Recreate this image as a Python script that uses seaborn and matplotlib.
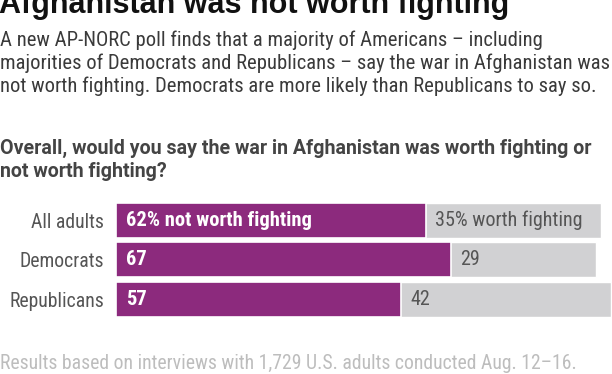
import matplotlib
matplotlib.use("Agg")
import matplotlib.pyplot as plt
import pandas as pd
import seaborn as sns

W, H = 612, 374

GROUPS = ["All adults", "Democrats", "Republicans"]
NOT_WORTH = [62, 67, 57]
WORTH = [35, 29, 42]
NOT_LABELS = ["62% not worth fighting", "67", "57"]
WORTH_LABELS = ["35% worth fighting", "29", "42"]

TITLE = "Afghanistan was not worth fighting"
SUBTITLE = [
    "A new AP-NORC poll finds that a majority of Americans \u2013 including",
    "majorities of Democrats and Republicans \u2013 say the war in Afghanistan was",
    "not worth fighting. Democrats are more likely than Republicans to say so.",
]
QUESTION = [
    "Overall, would you say the war in Afghanistan was worth fighting or",
    "not worth fighting?",
]
FOOTER = "Results based on interviews with 1,729 U.S. adults conducted Aug. 12\u201316."

PURPLE = "#8c2a7d"
GREY = "#d1d1d3"
NARROW = ["Roboto Condensed", "Roboto", "DejaVu Sans"]

sns.set_theme(style="white")
plt.rcParams["font.family"] = NARROW

df = pd.DataFrame({"group": GROUPS, "not_worth": NOT_WORTH, "worth": WORTH})
df["total"] = df["not_worth"] + df["worth"]

fig = plt.figure(figsize=(W / 100, H / 100), dpi=100)


def ftext(x, y, s, **kw):
    # positions in pixels from the top-left corner
    fig.text(x / W, 1 - y / H, s, **kw)


ftext(-1, 13, TITLE, fontsize=22, fontweight="bold", color="#111111", va="baseline",
      family=["Liberation Sans", "DejaVu Sans"])
for i, line in enumerate(SUBTITLE):
    ftext(0, 46 + i * 23, line, fontsize=14.9, color="#3a3a3a", va="baseline")
for i, line in enumerate(QUESTION):
    ftext(0, 154 + i * 23, line, fontsize=14.1, fontweight="bold", color="#444444",
          va="baseline", family=["Roboto", "DejaVu Sans"])
ftext(0, 369, FOOTER, fontsize=14.2, color="#bdbdbd", va="baseline")

ax = fig.add_axes([116 / W, 1 - 319 / H, 1 - 116 / W, 118.5 / H])
sns.barplot(data=df, x="total", y="group", color=GREY, width=0.89,
            saturation=1, ax=ax, orient="h")
sns.barplot(data=df, x="not_worth", y="group", color=PURPLE, width=0.89,
            saturation=1, edgecolor="white", linewidth=1.2, ax=ax, orient="h")

ax.set_xlim(0, 99.2)
ax.set_ylim(2.5, -0.5)
ax.set_xlabel("")
ax.set_ylabel("")
ax.set_xticks([])
ax.tick_params(axis="y", length=0, pad=8.5, labelsize=14.2, labelcolor="#555555")
sns.despine(ax=ax, left=True, bottom=True)

for i in range(len(GROUPS)):
    ax.text(2, i, NOT_LABELS[i], color="white", fontweight="bold", fontsize=14.8,
            va="center")
    ax.text(NOT_WORTH[i] + 1.8, i, WORTH_LABELS[i], color="#555555", fontsize=14.5,
            va="center")

fig.savefig("out.png", dpi=100)
